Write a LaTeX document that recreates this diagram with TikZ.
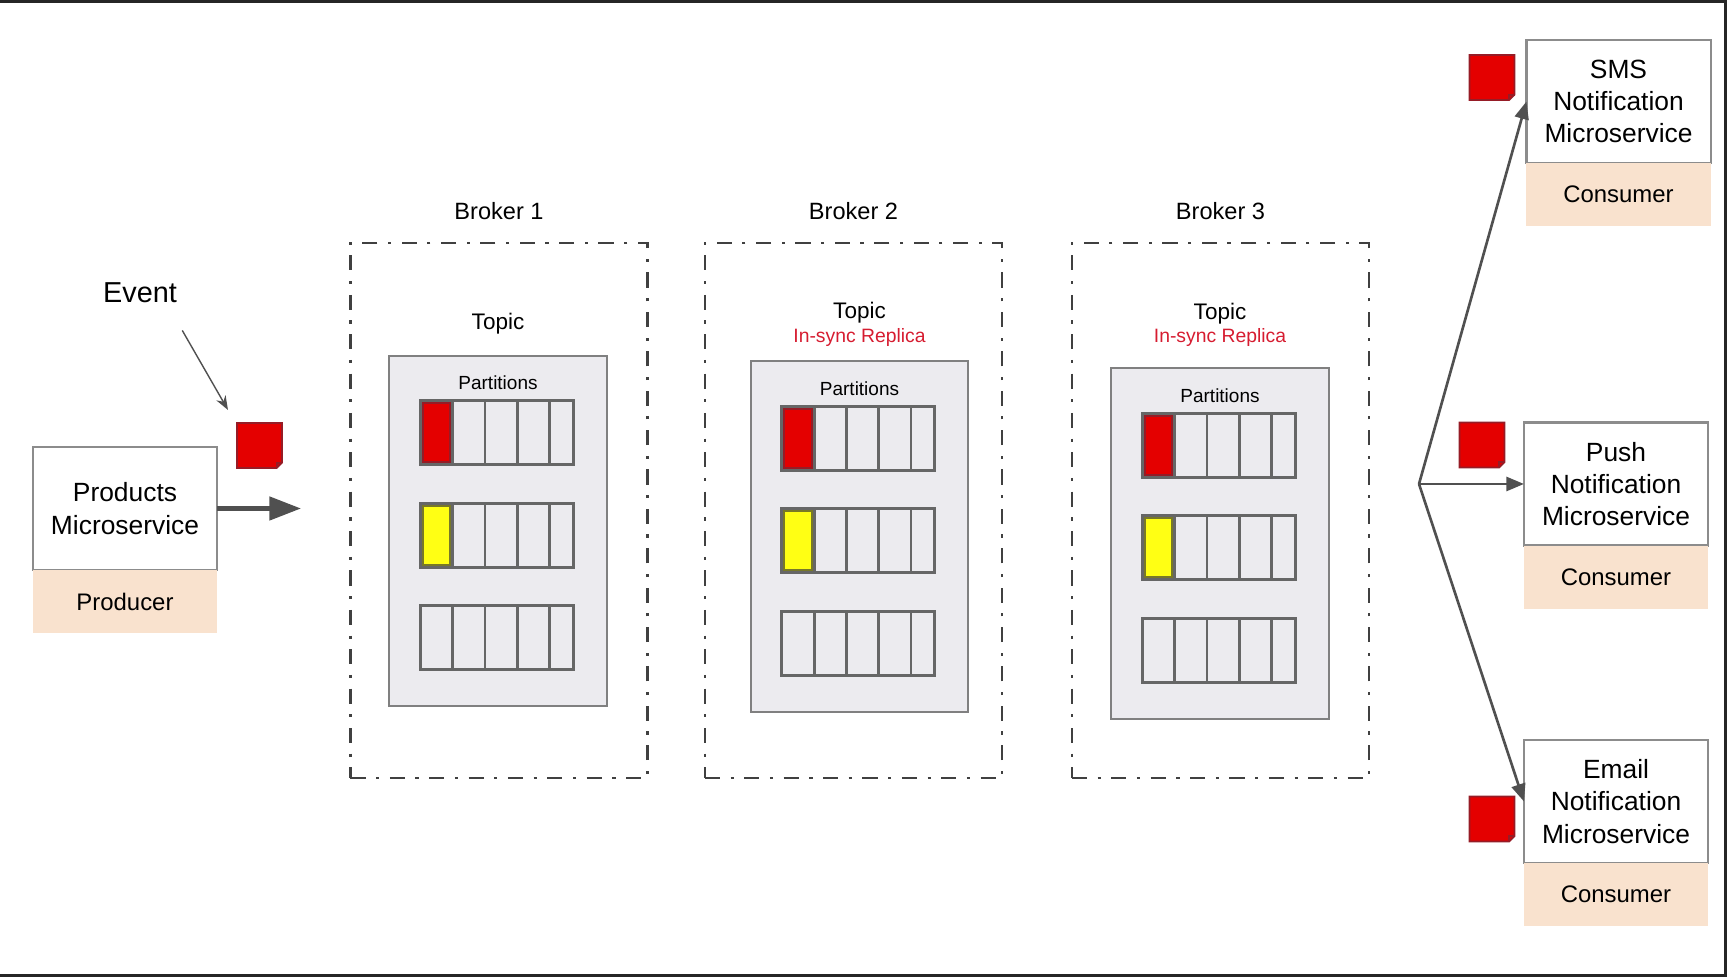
\documentclass[tikz,border=0pt]{standalone}
\usepackage{fontspec}
\setmainfont{Liberation Sans}
\usepackage{xcolor}
\usepackage{tikz}
\usetikzlibrary{shapes,arrows.meta,positioning}
\definecolor{peach}{RGB}{249,226,206}
\definecolor{topicgray}{RGB}{236,235,239}
\definecolor{msgred}{RGB}{228,0,0}
\definecolor{msgedge}{RGB}{150,28,38}
\definecolor{evyellow}{RGB}{255,255,20}
\definecolor{yedge}{RGB}{120,120,40}
\definecolor{isrred}{RGB}{214,28,48}
\definecolor{flowgray}{RGB}{80,80,80}
\tikzset{svc node/.style={rectangle,fill=white,draw=black!45,line width=0.6pt,minimum width=1.84cm,minimum height=1.23cm,inner sep=0pt,outer sep=0pt,align=center,font=\fontsize{7.5}{9.2}\selectfont},}
\tikzset{role/.style={rectangle,fill=peach,minimum width=1.84cm,minimum height=0.63cm,inner sep=0pt,outer sep=0pt,font=\fontsize{6.8}{8}\selectfont},}
\tikzset{broker/.style={rectangle,draw=black!75,line width=0.75pt,dash pattern=on 4.3pt off 3pt on 0.9pt off 3pt,minimum width=2.97cm,minimum height=5.35cm,inner sep=0pt},}
\tikzset{topic/.style={rectangle,fill=topicgray,draw=black!50,line width=0.6pt,minimum width=2.17cm,minimum height=3.5cm,inner sep=0pt},}
\tikzset{msg/.style={rectangle,minimum size=0.45cm,inner sep=0pt,outer sep=0pt},}
\tikzset{lbl/.style={inner sep=1pt,font=\fontsize{6.7}{8}\selectfont},}
\tikzset{toplbl/.style={inner sep=1pt,font=\fontsize{6.4}{8}\selectfont},}
\tikzset{isr/.style={inner sep=1pt,text=isrred,font=\fontsize{5.5}{6.5}\selectfont},}
\tikzset{plbl/.style={inner sep=1pt,font=\fontsize{5.4}{6.5}\selectfont},}
\tikzset{cellrow/.style={draw=black!60,line width=0.8pt},}
\tikzstyle{flow} = [line width=1.4pt,draw=flowgray,-{Triangle[length=9pt,width=6.5pt]}]
\tikzstyle{fan} = [line width=0.75pt,draw=flowgray,-{Triangle[length=5pt,width=4pt]}]
\tikzstyle{pointer} = [line width=0.4pt,draw=flowgray,-{Stealth[length=4pt,width=3pt]}]
\begin{document}
\begin{tikzpicture}[x=0.01cm,y=-0.01cm]
  \useasboundingbox (0,0) rectangle (1729,977);
  \draw[black!85,line width=1pt] (0,1.5) -- (1725.5,1.5) -- (1725.5,975.5) -- (0,975.5);

    \node[svc node] (1) at (125,508.5) {Products\\Microservice};
    \node[role,below=0pt of 1] (2) {Producer};
    \node[font=\fontsize{8.2}{10}\selectfont] (ev) at (140,293) {Event};
    \node[msg] (m0) at (259.5,445.5) {};
    \coordinate[right=0.84cm of 1] (in);

    \node[broker] (b1) at (499,510.5) {};
    \node[broker] (b2) at (853.5,510.5) {};
    \node[broker] (b3) at (1220.5,510.5) {};
    \node[lbl,above=0.18cm of b1] (l1) {Broker 1};
    \node[lbl,above=0.18cm of b2] (l2) {Broker 2};
    \node[lbl,above=0.18cm of b3] (l3) {Broker 3};

    \node[topic] (t1) at (498,531) {};
    \node[topic] (t2) at (859.5,536.5) {};
    \node[topic] (t3) at (1220,543.5) {};
    \node[toplbl,above=0.16cm of t1] (tp1) {Topic};
    \node[isr,above=0.1cm of t2] (r2) {In-sync Replica};
    \node[toplbl,above=-0.04cm of r2] (tp2) {Topic};
    \node[isr,above=0.165cm of t3] (r3) {In-sync Replica};
    \node[toplbl,above=-0.04cm of r3] (tp3) {Topic};
    \foreach \t in {t1,t2,t3}{
      \node[plbl,below=0.17cm of \t.north] {Partitions};
      \foreach \r in {0,1,2}{
        \draw[cellrow] ([shift={(32,46+102.5*\r)}]\t.north west) rectangle +(153,64);
        \foreach \c in {1,...,4}
          \draw[cellrow] ([shift={(32+32.3*\c,46+102.5*\r)}]\t.north west) -- +(0,64);
      }
      \draw[fill=msgred,draw=msgedge,line width=0.6pt] ([shift={(34.5,48.5)}]\t.north west) rectangle +(27.5,59);
      \draw[fill=evyellow,draw=yedge,line width=0.6pt] ([shift={(34.5,151)}]\t.north west) rectangle +(27.5,59);
    }

    \node[svc node] (5) at (1618.5,101.5) {SMS\\Notification\\Microservice};
    \node[role,below=0pt of 5] (6) {Consumer};
    \node[svc node] (7) at (1616,484) {Push\\Notification\\Microservice};
    \node[role,below=0pt of 7] (8) {Consumer};
    \node[svc node] (9) at (1616,801.5) {Email\\Notification\\Microservice};
    \node[role,below=0pt of 9] (10) {Consumer};
    \node[msg] (m1) at (1492,77.5) {};
    \node[msg] (m2) at (1482,445) {};
    \node[msg] (m3) at (1492,819) {};
    \coordinate (hub) at (1419,484);

    % event squares with a folded corner
    \foreach \m in {m0,m1,m2,m3}{
      \filldraw[fill=msgred,draw=msgedge,line width=0.5pt] (\m.north west) -- (\m.north east) -- ([yshift=1.5pt]\m.south east) -- ([xshift=-1.5pt]\m.south east) -- (\m.south west) -- cycle;
      \draw[msgedge,line width=0.5pt] ([yshift=1.5pt]\m.south east) -- ([shift={(-1.5pt,1.5pt)}]\m.south east) -- ([xshift=-1.5pt]\m.south east);
    }

    \draw[flow] (1) -- (in);
    \draw[pointer] ([shift={(-7,15)}]ev.south east) -- ([shift={(-9,-13)}]m0.north west);
    \draw[fan] (hub) -- (5.west);
    \draw[fan] (hub) -- (7.west);
    \draw[fan] (hub) -- (9.west);
\end{tikzpicture}
\end{document}
